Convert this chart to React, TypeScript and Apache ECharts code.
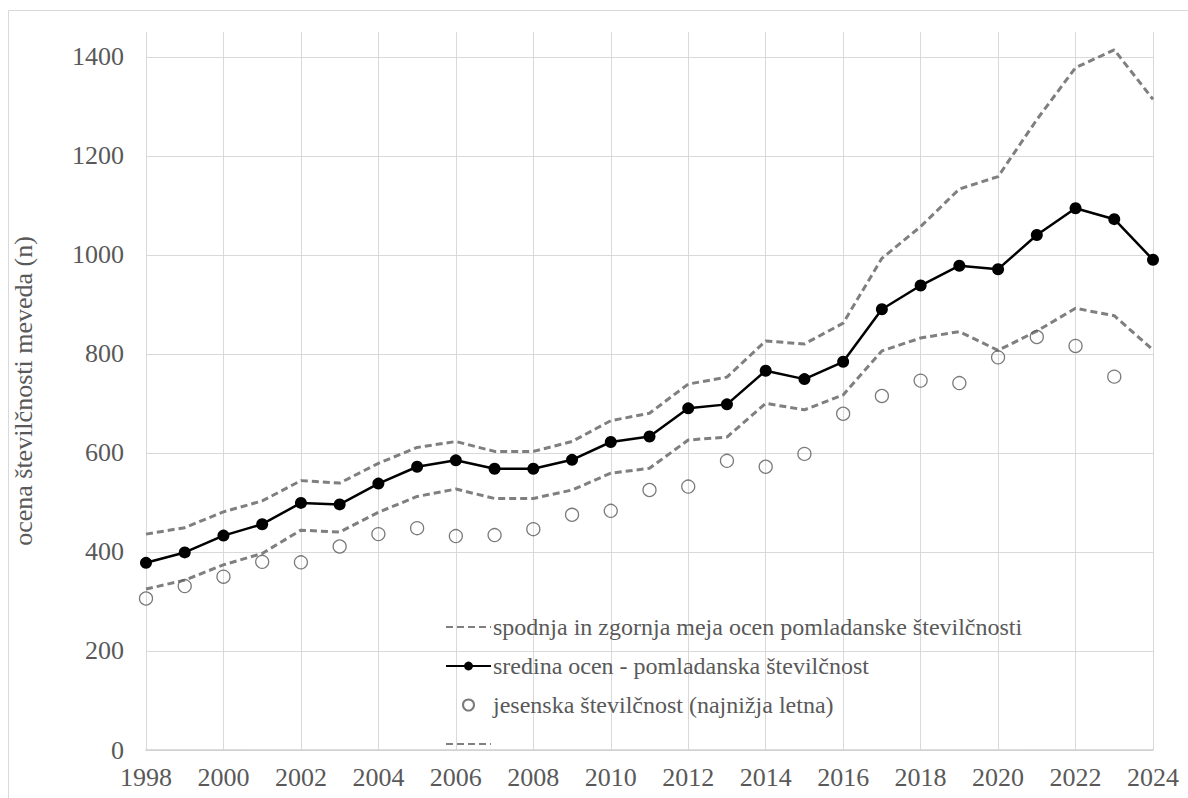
import React, { useEffect, useRef } from "react";
import * as echarts from "echarts";

// Years on the horizontal axis
const years: number[] = [
  1998, 1999, 2000, 2001, 2002, 2003, 2004, 2005, 2006, 2007, 2008, 2009, 2010,
  2011, 2012, 2013, 2014, 2015, 2016, 2017, 2018, 2019, 2020, 2021, 2022, 2023, 2024,
];

// Spring population estimate – midpoint
const springMid: number[] = [
  378, 399, 433, 456, 499, 496, 538, 572, 585, 568, 568, 586, 622, 633, 690, 698,
  766, 749, 784, 890, 938, 978, 971, 1040, 1094, 1072, 990,
];

// Spring population estimate – upper bound
const springUpper: number[] = [
  436, 449, 481, 503, 544, 539, 579, 611, 623, 603, 603, 623, 665, 680, 739, 753,
  826, 820, 862, 993, 1057, 1133, 1158, 1273, 1378, 1414, 1314,
];

// Spring population estimate – lower bound
const springLower: number[] = [
  325, 343, 374, 397, 444, 440, 480, 512, 527, 508, 508, 525, 559, 569, 626, 632,
  700, 687, 717, 806, 832, 845, 807, 846, 892, 877, 808,
];

// Autumn population (lowest in the year); no value for 2024
const autumn: (number | null)[] = [
  306, 331, 350, 380, 379, 411, 436, 448, 432, 434, 446, 475, 483, 525, 532, 584,
  572, 598, 679, 715, 746, 741, 793, 834, 816, 754, null,
];

const seriesNames: string[] = [
  "spodnja in zgornja meja ocen pomladanske številčnosti",
  "sredina ocen - pomladanska številčnost",
  "jesenska številčnost (najnižja letna)",
  " ",
];

const yAxisTitle = "ocena številčnosti meveda (n)";

const FONT = "Liberation Serif";
const TEXT_COLOR = "#595959";
const GRID_COLOR = "#d9d9d9";
const DASH_COLOR = "#7f7f7f";

const pairs = (vals: (number | null)[]) =>
  years.map((y, i) => [y, vals[i] === null ? null : vals[i]]);

export default function App() {
  const ref = useRef<HTMLDivElement | null>(null);

  useEffect(() => {
    if (!ref.current) return;
    const chart = echarts.init(ref.current, undefined, { renderer: "svg" });

    const dashedStyle = { color: DASH_COLOR, width: 3, type: [7, 4] as number[] };
    // dashed series show only their line in the legend
    const hiddenMarker = { opacity: 0 };

    chart.setOption({
      animation: false,
      backgroundColor: "#ffffff",
      textStyle: { fontFamily: FONT },
      graphic: [
        {
          type: "rect",
          shape: { x: 8.5, y: 10.5, width: 1200, height: 800 },
          style: { fill: "none", stroke: GRID_COLOR, lineWidth: 1 },
          silent: true,
          z: -10,
        },
      ],
      grid: { left: 146, right: 35, top: 32, bottom: 48 },
      legend: {
        orient: "vertical",
        left: 440,
        top: 609,
        itemWidth: 45,
        itemHeight: 11,
        itemGap: 13,
        textStyle: {
          fontFamily: FONT,
          fontSize: 24,
          color: TEXT_COLOR,
          lineHeight: 26,
          padding: [0, 0, 0, -3],
        },
        data: [
          { name: seriesNames[0], itemStyle: hiddenMarker },
          { name: seriesNames[1] },
          { name: seriesNames[2] },
          { name: seriesNames[3], itemStyle: hiddenMarker },
        ],
      },
      xAxis: {
        type: "value",
        min: 1998,
        max: 2024,
        interval: 2,
        axisLine: { show: true, lineStyle: { color: "#d0d0d0", width: 1.5 } },
        axisTick: { show: false },
        axisLabel: {
          fontFamily: FONT,
          fontSize: 26,
          color: TEXT_COLOR,
          margin: 14,
          formatter: (v: number) => String(v),
        },
        splitLine: { show: true, lineStyle: { color: GRID_COLOR, width: 1 } },
      },
      yAxis: {
        type: "value",
        min: 0,
        max: 1450,
        interval: 200,
        name: yAxisTitle,
        nameLocation: "middle",
        nameGap: 110,
        nameTextStyle: { fontFamily: FONT, fontSize: 26, color: TEXT_COLOR },
        axisLine: { show: false },
        axisTick: { show: false },
        axisLabel: {
          fontFamily: FONT,
          fontSize: 26,
          color: TEXT_COLOR,
          margin: 22,
          formatter: (v: number) => (v % 200 === 0 ? String(v) : ""),
        },
        splitLine: {
          show: true,
          showMaxLine: false,
          lineStyle: {
            color: [
              GRID_COLOR, GRID_COLOR, GRID_COLOR, GRID_COLOR, GRID_COLOR,
              GRID_COLOR, GRID_COLOR, GRID_COLOR, "rgba(0,0,0,0)",
            ],
            width: 1,
          },
        },
      },
      series: [
        {
          name: seriesNames[0],
          type: "line",
          data: pairs(springUpper),
          symbol: "none",
          lineStyle: dashedStyle,
          itemStyle: { color: DASH_COLOR },
          z: 2,
        },
        {
          name: seriesNames[1],
          type: "line",
          data: pairs(springMid),
          symbol: "circle",
          symbolSize: 12,
          lineStyle: { color: "#000000", width: 2.5 },
          itemStyle: { color: "#000000" },
          z: 4,
        },
        {
          name: seriesNames[2],
          type: "scatter",
          data: pairs(autumn),
          symbol: "circle",
          symbolSize: 13,
          itemStyle: {
            color: "rgba(255,255,255,0)",
            borderColor: "#595959",
            borderWidth: 1.3,
          },
          z: 3,
        },
        {
          name: seriesNames[3],
          type: "line",
          data: pairs(springLower),
          symbol: "none",
          lineStyle: dashedStyle,
          itemStyle: { color: DASH_COLOR },
          z: 2,
        },
      ],
    });

    return () => chart.dispose();
  }, []);

  return (
    <div
      ref={ref}
      style={{ position: "fixed", left: 0, top: 0, width: 1188, height: 798 }}
    />
  );
}
